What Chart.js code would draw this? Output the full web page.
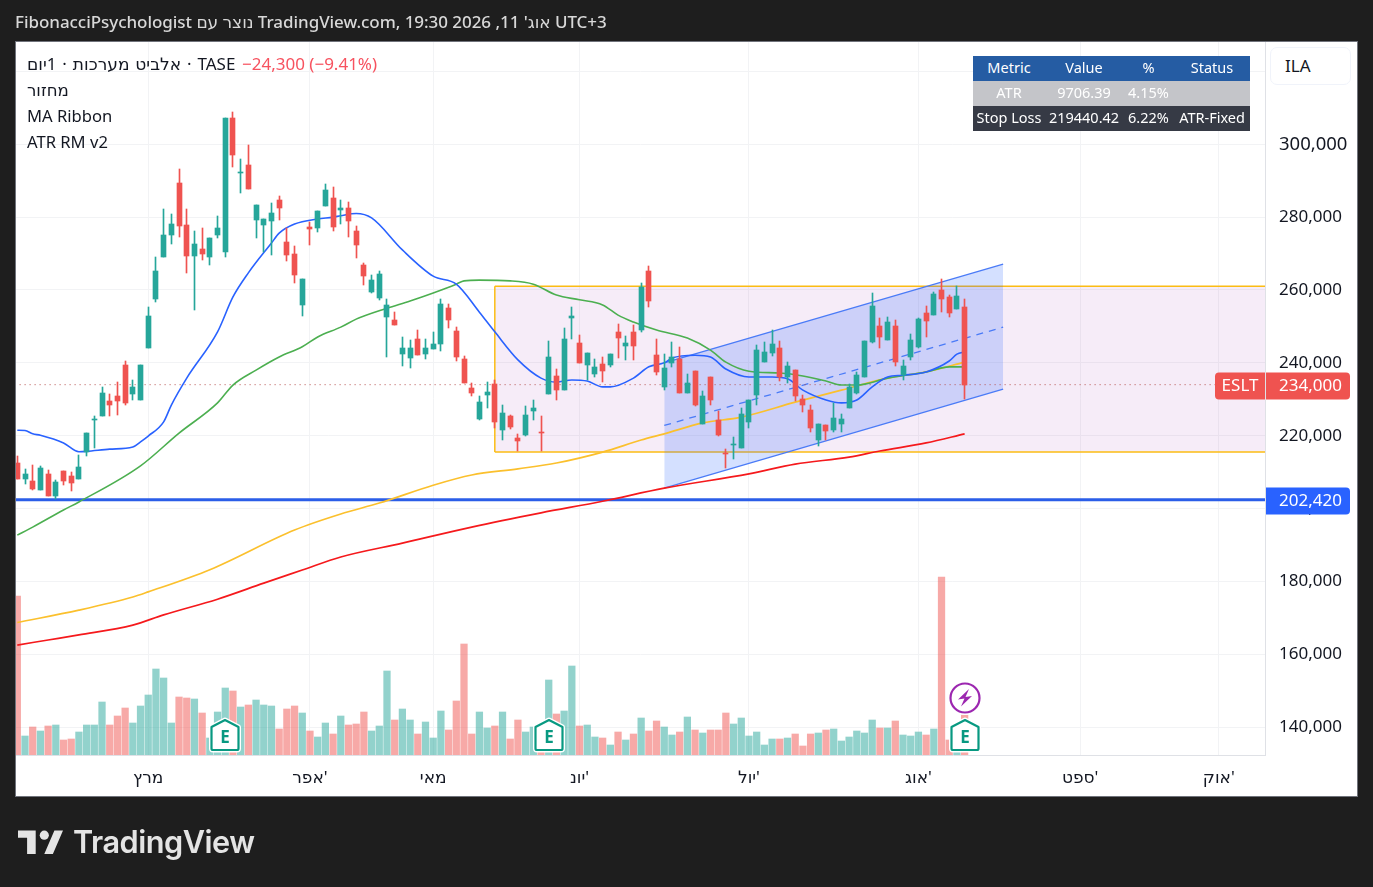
<!DOCTYPE html>
<html lang="he">
<head>
<meta charset="utf-8">
<title>ESLT</title>
<script src="https://cdn.jsdelivr.net/npm/chart.js@4"></script>
<style>
html,body{margin:0;padding:0;background:#1e1e1e;width:1373px;height:887px;overflow:hidden;}
body{font-family:"Noto Sans","DejaVu Sans",sans-serif;}
canvas{position:absolute;left:0;top:0;}
.t{position:absolute;white-space:pre;line-height:24px;font-size:16.6px;color:#131722;}
#head{left:15px;top:10px;color:#d8d8d8;font-size:17px;font-weight:500;letter-spacing:-.05px;}
#ila{position:absolute;left:1270px;top:47px;width:81px;height:38px;box-sizing:border-box;background:#fff;border:1.5px solid #f0f3fa;border-radius:7px;padding-left:14px;line-height:35px;font-size:17px;color:#131722;}
#tbl{position:absolute;left:973px;top:56px;width:277px;height:75px;border-collapse:collapse;table-layout:fixed;font-size:14.5px;color:#fff;}
#tbl td{padding:0 0 4px 0;box-sizing:border-box;text-align:center;height:25px;white-space:nowrap;overflow:hidden;}
#logoText{position:absolute;left:73px;top:821px;font:600 30.7px/42px Inter,"Noto Sans",sans-serif;color:#e4e4e4;letter-spacing:-.5px;}
#logoIcon{position:absolute;left:18px;top:830px;}
</style>
</head>
<body>
<canvas id="c" width="1373" height="887"></canvas>
<div class="t" id="head">FibonacciPsychologist נוצר עם TradingView.com, אוג' 11, 2026 19:30 UTC+3</div>
<div class="t" style="left:27px;top:52px;font-size:17px;word-spacing:1.5px">אלביט מערכות · 1יום · TASE</div>
<div class="t" style="left:242px;top:52px;color:#f7525f;font-size:17px">−24,300 (−9.41%)</div>
<div class="t" style="left:27px;top:78px">מחזור</div>
<div class="t" style="left:27px;top:104px">MA Ribbon</div>
<div class="t" style="left:27px;top:130px">ATR RM v2</div>
<div id="ila">ILA</div>
<table id="tbl"></table>
<svg id="logoIcon" width="45" height="24" viewBox="0 0 44.5 23.5"><path fill="#e4e4e4" d="M17.5 0.5H0v7h9v16h8.5zM36 0.5h8.5l-10 23H26z"/><circle fill="#e4e4e4" cx="26" cy="5" r="4.5"/></svg>
<div id="logoText">TradingView</div>
<script>
const opens=[212500,208100,207600,205100,209500,203400,210300,208900,208100,215500,224300,225400,229500,230900,239400,231400,229800,244100,257500,269000,275100,289400,277800,269300,271300,269000,275100,270400,307200,292200,294300,279200,277800,278900,284700,273200,269900,255900,277300,277000,283000,285300,282000,282500,276200,266900,259400,257800,252600,251800,242400,241300,246500,242400,243800,245200,255000,248700,241100,233100,224600,231200,234200,221600,225400,219400,220200,226800,221000,231400,236400,232500,252300,245400,239400,236900,239700,239400,248500,244600,248500,249000,265200,242100,233400,240000,241100,231700,237700,223200,236100,224300,215200,217400,216600,223700,231200,240200,242700,244100,236100,238000,230100,227100,218800,222900,221600,223200,227600,231700,236100,245700,250100,246300,250100,236600,241600,244400,253700,253100,260000,258100,254800,255300];
const closes=[208100,209500,205400,211100,203400,207300,207600,207000,211400,220700,224600,231700,228400,229500,229000,233400,239400,252900,265200,275100,278100,277600,269300,272600,269900,274300,277000,307200,297100,292500,287700,283300,279500,281100,282500,269600,264100,263000,276700,281700,287500,277300,282500,278900,272400,263800,262700,264400,255900,250400,244100,244100,242100,244100,245200,256100,251800,241600,234500,231700,229200,232000,223700,226200,222400,218500,225700,227600,220700,241600,232500,246500,252900,240000,242700,238900,237700,242400,246800,245400,244600,260800,257000,237500,238600,241600,231700,234500,228400,230900,229800,220200,215000,217700,226000,229800,243500,243000,245200,236100,239100,230900,228400,222100,223200,221300,224900,224600,233400,236600,246000,255600,247100,251200,240200,239100,246300,252000,251500,258900,257500,253700,258300,234000];
const highs=[214400,210800,211900,211700,210600,207800,210300,210000,214700,220700,225400,233400,231400,234700,240500,235300,239400,255300,269000,282200,280900,293200,282200,276200,277000,274300,280300,307200,308900,296000,299800,283300,279500,283900,285800,277000,272100,263000,278700,281700,289100,288300,284700,284200,277600,267400,264100,265200,257500,253900,247100,246300,249000,246500,248500,257500,256100,249800,241900,234500,230900,234700,235300,228400,225700,220500,228100,229800,225400,246000,238300,249600,255300,247600,242700,241100,241600,242400,250600,247400,250400,261900,266600,246500,242400,245700,244400,236900,237700,232300,236100,226800,216300,219600,227600,229800,244900,245700,249000,246000,240200,238000,231200,228400,223200,222900,229000,226000,234200,237500,246000,259200,252300,252600,251800,240800,247900,252300,255600,259400,263000,258600,261100,257500];
const lows=[208100,206700,205100,205100,203400,202600,206400,204800,208100,214400,216600,225400,225400,225700,228400,229800,229800,244100,256700,269000,272600,274500,264700,254500,268200,266900,274300,269000,293800,286600,287700,274300,270400,269600,279200,268000,261900,252900,272400,275900,283000,276200,278100,274500,268800,261400,259200,257300,241600,250400,239100,238600,242100,241100,243800,243200,249600,240500,234500,230900,224300,227600,222100,218800,221800,215800,219900,224300,215800,231400,229800,232500,246500,240000,235300,236100,234700,238900,241300,240800,240800,248500,255300,236600,232500,238900,231700,231700,228100,223200,228400,219900,211100,213600,216600,222100,228400,240200,241900,235000,234500,229500,226500,221000,217100,218800,221000,221000,227600,231400,236100,245400,244100,246300,239100,235300,240800,244100,247100,253100,253900,252600,254800,230100];
// volume, thousands of shares
const volumes=[159,19,28,24,29,30,15,16,23,30,30,53,30,39,47,32,49,60,86,77,32,58,57,56,42,17,43,67,64,48,50,55,50,49,26,46,49,42,24,18,32,21,39,30,31,43,24,29,84,35,46,35,21,33,17,44,25,54,111,21,43,27,29,43,16,35,23,28,31,75,41,44,89,29,30,18,17,10,23,15,21,37,24,34,28,20,23,38,25,22,25,25,42,31,37,19,23,10,16,16,17,21,9,21,22,25,26,14,18,24,22,35,27,27,34,20,19,23,20,26,178,15,8,40];

const blueBars=[0,1,2,3,6,8,9,12,15,16,17,19,20,22,26,28,30,33,34,36,39,41,42,44,46,50,54,57,60,62,65,68,70,72,74,76,77,80,82,84,85,88,90,92,95,98,100,102,105,107,109,111,113,115,118,121,122,123];
const blueValues=[221500,221400,220500,220100,218000,215600,215700,216300,216900,218300,219900,223800,228400,235800,248500,258100,264700,272900,275600,278100,279500,280000,280400,281000,279800,271000,263800,261600,253900,248500,240800,235800,234700,235300,235000,233400,233400,235800,238900,240000,241300,242100,241600,238300,236100,236100,235600,232500,229800,229000,229800,233400,236100,236600,237500,240500,242400,243000];
const greenBars=[0,2,6,8,16,21,26,28,31,34,37,39,42,44,48,51,54,57,58,60,64,67,70,73,76,78,80,83,87,90,92,95,99,102,105,107,109,113,118,121,123];
const greenValues=[192700,194900,199600,201800,211700,220700,229000,233900,238000,241600,244400,247100,249800,252000,255000,257000,259200,261600,262500,262700,262500,261600,258600,257300,255900,253100,251200,249000,246800,243500,240200,237700,237200,236400,235000,233900,233900,235800,237500,238900,238900];
const yellowBars=[0,8,15,17,25,36,42,47,54,59,65,70,76,81,84,89,94,101,107,113,118,123];
const yellowValues=[168700,172100,175700,177100,183200,194100,198500,201500,206400,209200,210900,212500,215500,218800,220500,223500,225100,229200,232500,235800,237500,240200];
const redBars=[0,4,8,15,19,26,32,37,42,50,59,68,76,84,95,101,108,112,118,123];
const redValues=[162500,163900,165300,168000,170800,175100,179500,183100,186700,190500,194900,198800,202000,205600,209500,212200,214100,215800,218000,220500];

const boxBars=[62,170];            // yellow range box: first bar, runs off the chart on the right
const boxTop=261000, boxBottom=215500;
const channelBars=[84,128];
const channelUpper=[240000,267100];
const channelMiddle=[222800,249800];
const channelLower=[205600,232800];

const lastPrice=234000, stopLevel=202420, symbol="ESLT";
const priceTicks=[140000,160000,180000,200000,220000,240000,260000,280000,300000,320000];
const priceTicksLarge=[300000];
const monthBars=[17,38,54,73,95,117,138,156];
const monthLabels=["מרץ","אפר'","מאי","יונ'","יול'","אוג'","ספט'","אוק'"];
const earningsBars=[27,69,123];
const dividendBars=[123];
const tableRows=[["Metric","Value","%","Status"],["ATR","9706.39","4.15%",""],["Stop Loss","219440.42","6.22%","ATR-Fixed"]];

const UP="#26a69a", DOWN="#ef5350";
const FONT='"Noto Sans","DejaVu Sans",sans-serif';
const BOX_Y=[132320,328090];

/* table */
(function(){
  const bg=["#255ca3","#c4c5c9","#363a45"], w=[72,78,51,76];
  const t=document.getElementById("tbl");
  t.innerHTML='<colgroup>'+w.map(x=>'<col style="width:'+x+'px">').join('')+'</colgroup>'+
    tableRows.map((r,i)=>'<tr style="background:'+bg[i]+'">'+r.map(c=>'<td>'+c+'</td>').join('')+'</tr>').join('');
})();

const pts=(xs,ys)=>xs.map((x,i)=>({x,y:ys[i]}));
const isUp=i=>closes[i]>=opens[i];
const line=(label,xs,ys,color,width,order,extra)=>Object.assign({type:'line',label,data:pts(xs,ys),borderColor:color,borderWidth:width,pointRadius:0,pointHoverRadius:0,fill:false,order,tension:0},extra||{});

const datasets=[
  /*0*/ line('Box top',boxBars,[boxTop,boxTop],'#fbbc14',1.5,90,{fill:{target:1,above:'rgba(156,39,176,0.09)',below:'rgba(156,39,176,0.09)'}}),
  /*1*/ line('Box bottom',boxBars,[boxBottom,boxBottom],'#fbbc14',1.5,89),
  /*2*/ line('Box left',[boxBars[0],boxBars[0]],[boxBottom,boxTop],'#fbbc14',1.5,88),
  /*3*/ line('Channel upper',channelBars,channelUpper,'#4a7bf7',1.3,80,{fill:{target:4,above:'rgba(41,98,255,0.2)',below:'rgba(41,98,255,0.2)'}}),
  /*4*/ line('Channel lower',channelBars,channelLower,'#4a7bf7',1.3,79),
  /*5*/ line('Channel middle',channelBars,channelMiddle,'#4a7bf7',1.3,78,{borderDash:[7,6]}),
  {type:'bar',label:'Volume',yAxisID:'v',data:volumes.map((v,i)=>({x:i,y:v})),grouped:false,barPercentage:1,categoryPercentage:1,maxBarThickness:6.6,borderWidth:0,
    backgroundColor:volumes.map((v,i)=>isUp(i)?'rgba(38,166,154,0.5)':'rgba(239,83,80,0.5)'),order:70},
  line('Price level',[-1,170],[lastPrice,lastPrice],'#b5504e',1,60,{borderDash:[1,4]}),
  line('Support',[-1,170],[stopLevel,stopLevel],'#2b5ee8',3,55),
  line('MA200',redBars,redValues,'#f5191c',1.7,50,{cubicInterpolationMode:'monotone'}),
  line('MA100',yellowBars,yellowValues,'#fbc02d',1.7,49,{cubicInterpolationMode:'monotone'}),
  line('MA50',greenBars,greenValues,'#4caf50',1.6,48,{cubicInterpolationMode:'monotone'}),
  line('MA20',blueBars,blueValues,'#2962ff',1.6,47,{cubicInterpolationMode:'monotone'}),
  {type:'bar',label:'Wicks',snap:true,data:lows.map((l,i)=>({x:i,y:[l,highs[i]]})),grouped:false,barPercentage:1,categoryPercentage:1,maxBarThickness:1,borderWidth:0,
    backgroundColor:lows.map((l,i)=>isUp(i)?UP:DOWN),order:20},
  {type:'bar',label:'Bodies',snap:true,data:opens.map((o,i)=>({x:i,y:[o,closes[i]]})),grouped:false,barPercentage:1,categoryPercentage:1,maxBarThickness:5,borderWidth:0,
    backgroundColor:opens.map((o,i)=>isUp(i)?UP:DOWN),order:19}
];

function rr(ctx,x,y,w,h,tl,tr,br,bl){ctx.beginPath();ctx.roundRect(x,y,w,h,[tl,tr,br,bl]);}

const snapPlugin={id:'snap',afterDatasetsUpdate(chart){
  chart.data.datasets.forEach((d,i)=>{
    if(!d.snap)return;
    chart.getDatasetMeta(i).data.forEach(el=>{
      el.x=Math.round(el.x-0.5)+0.5;
      const a=Math.round(el.y), b=Math.round(el.base);
      el.y=a; el.base=(a===b)?a+1:b; el.height=el.base-el.y;
    });
  });
}};

const panelPlugin={id:'panel',beforeDraw(chart){
  const c=chart.ctx;c.save();
  c.fillStyle='#ffffff';c.fillRect(15.5,41.5,1342,755);
  c.strokeStyle='#70737b';c.lineWidth=1;c.strokeRect(15.5,41.5,1342,755);
  c.restore();
}};

const overlayPlugin={id:'overlay',afterDraw(chart){
  const c=chart.ctx, X=chart.scales.x, Y=chart.scales.y, A=chart.chartArea;
  c.save();
  c.textBaseline='middle';
  function tag(val,color,txt,withSym){
    const y=Math.round(Y.getPixelForValue(val))+1;
    c.fillStyle=color;
    rr(c,A.right+1,y-13.5,84,27,0,4,4,0);c.fill();
    if(withSym){rr(c,A.right-50,y-13.5,50,27,4,0,0,4);c.fill();}
    c.fillStyle='#fff';c.font='17px '+FONT;c.textAlign='left';
    c.fillText(txt,A.right+14,y);
    if(withSym){c.textAlign='center';c.fillText(symbol,A.right-25,y);}
  }
  tag(stopLevel,'#2962ff',stopLevel.toLocaleString('en-US'),false);
  tag(lastPrice,DOWN,lastPrice.toLocaleString('en-US'),true);
  earningsBars.forEach(b=>{
    const x=Math.round(X.getPixelForValue(b)), bottom=A.bottom-5;
    const path=()=>{c.beginPath();c.moveTo(x,bottom-30);c.lineTo(x+13.5,bottom-23);c.lineTo(x+13.5,bottom-1.5);c.quadraticCurveTo(x+13.5,bottom,x+12,bottom);c.lineTo(x-12,bottom);c.quadraticCurveTo(x-13.5,bottom,x-13.5,bottom-1.5);c.lineTo(x-13.5,bottom-23);c.closePath();};
    c.lineJoin='round';
    path();c.strokeStyle='#fff';c.lineWidth=5;c.stroke();
    path();c.fillStyle='#fff';c.fill();c.strokeStyle='#089981';c.lineWidth=2.2;c.stroke();
    c.fillStyle='#089981';c.font='bold 17px '+FONT;c.textAlign='center';c.fillText('E',x,bottom-12);
  });
  dividendBars.forEach(b=>{
    const x=Math.round(X.getPixelForValue(b)), y=A.bottom-57;
    c.beginPath();c.arc(x,y,17,0,Math.PI*2);c.fillStyle='#fff';c.fill();
    c.beginPath();c.arc(x,y,14.5,0,Math.PI*2);c.strokeStyle='#9c27b0';c.lineWidth=2.2;c.stroke();
    c.beginPath();c.moveTo(x+4,y-9);c.lineTo(x-7,y+1.5);c.lineTo(x-0.5,y+0.5);c.lineTo(x-4,y+8.5);c.lineTo(x+7,y-2);c.lineTo(x+0.5,y-1);c.closePath();c.fillStyle='#9c27b0';c.fill();
  });
  c.restore();
}};

new Chart(document.getElementById('c'),{
  type:'line',
  data:{datasets},
  plugins:[panelPlugin,snapPlugin,overlayPlugin],
  options:{
    responsive:false,animation:false,devicePixelRatio:1,
    layout:{padding:{left:16,right:15,top:42,bottom:90}},
    interaction:{mode:null},
    plugins:{legend:{display:false},tooltip:{enabled:false},title:{display:false}},
    scales:{
      x:{type:'linear',offset:false,min:-0.169,max:162,
        grid:{color:'#f2f3f5',lineWidth:1,offset:false,drawTicks:false},
        border:{color:'#dfe1e6'},
        afterBuildTicks:s=>{s.ticks=monthBars.map(v=>({value:v}));},
        afterFit:s=>{s.height=42;},
        ticks:{autoSkip:false,maxRotation:0,minRotation:0,padding:13,color:'#131722',font:{family:FONT,size:17},
          callback:v=>monthLabels[monthBars.indexOf(v)]}
      },
      y:{type:'linear',position:'right',min:BOX_Y[0],max:BOX_Y[1],
        grid:{color:'#f2f3f5',lineWidth:1,drawTicks:false},
        border:{color:'#dfe1e6'},
        afterBuildTicks:s=>{s.ticks=priceTicks.map(v=>({value:v}));},
        afterFit:s=>{s.width=93;},
        ticks:{autoSkip:false,padding:14,color:'#131722',
          font:ctx=>({family:FONT,size:(ctx.tick&&priceTicksLarge.includes(ctx.tick.value))?18.5:17}),
          callback:v=>Number(v).toLocaleString('en-US')}
      },
      v:{type:'linear',display:false,min:0,max:713,grid:{display:false}}
    }
  }
});
</script>
</body>
</html>
